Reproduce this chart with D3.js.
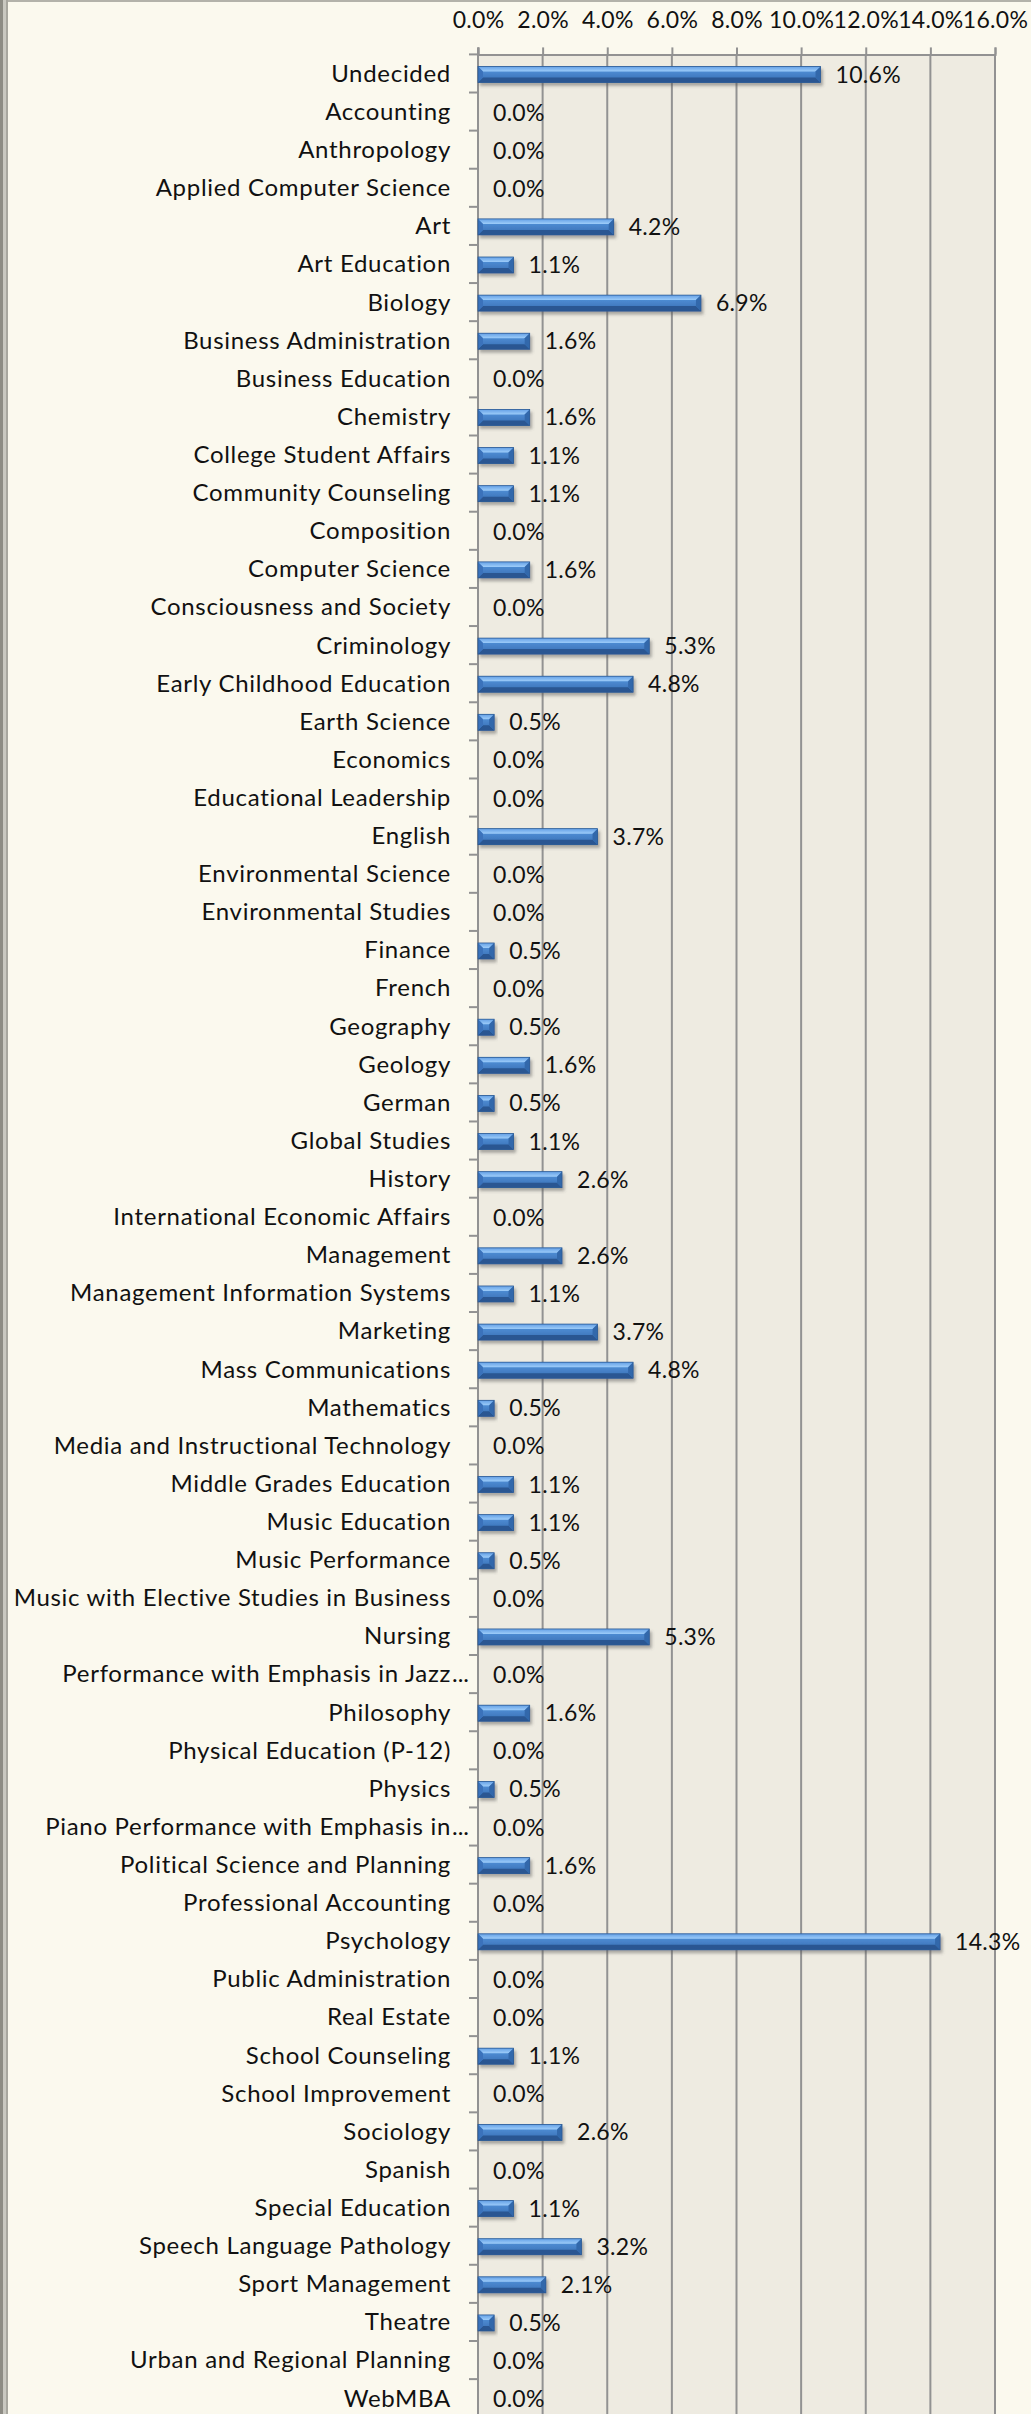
<!DOCTYPE html>
<html>
<head>
<meta charset="utf-8">
<script src="https://cdn.jsdelivr.net/npm/d3@7"></script>
<style>
  body { margin: 0; background: #fbf9ee; }
  svg { display: block; }
  text { font-family: Lato, "Open Sans", sans-serif; fill: #111; }
</style>
</head>
<body>
<div id="chart"></div>
<script>
// categories, top to bottom
var majors = [
  "Undecided", "Accounting", "Anthropology", "Applied Computer Science", "Art",
  "Art Education", "Biology", "Business Administration", "Business Education", "Chemistry",
  "College Student Affairs", "Community Counseling", "Composition", "Computer Science",
  "Consciousness and Society", "Criminology", "Early Childhood Education", "Earth Science",
  "Economics", "Educational Leadership", "English", "Environmental Science",
  "Environmental Studies", "Finance", "French", "Geography", "Geology", "German",
  "Global Studies", "History", "International Economic Affairs", "Management",
  "Management Information Systems", "Marketing", "Mass Communications", "Mathematics",
  "Media and Instructional Technology", "Middle Grades Education", "Music Education",
  "Music Performance", "Music with Elective Studies in Business", "Nursing",
  "Performance with Emphasis in Jazz...", "Philosophy", "Physical Education (P-12)",
  "Physics", "Piano Performance with Emphasis in...", "Political Science and Planning",
  "Professional Accounting", "Psychology", "Public Administration", "Real Estate",
  "School Counseling", "School Improvement", "Sociology", "Spanish", "Special Education",
  "Speech Language Pathology", "Sport Management", "Theatre", "Urban and Regional Planning",
  "WebMBA"
];

// percent of respondents
var percents = [
  10.6, 0.0, 0.0, 0.0, 4.2,
  1.1, 6.9, 1.6, 0.0, 1.6,
  1.1, 1.1, 0.0, 1.6,
  0.0, 5.3, 4.8, 0.5,
  0.0, 0.0, 3.7, 0.0,
  0.0, 0.5, 0.0, 0.5, 1.6, 0.5,
  1.1, 2.6, 0.0, 2.6,
  1.1, 3.7, 4.8, 0.5,
  0.0, 1.1, 1.1,
  0.5, 0.0, 5.3,
  0.0, 1.6, 0.0,
  0.5, 0.0, 1.6,
  0.0, 14.3, 0.0, 0.0,
  1.1, 0.0, 2.6, 0.0, 1.1,
  3.2, 2.1, 0.5, 0.0,
  0.0
];

var axisTicks = [0, 2, 4, 6, 8, 10, 12, 14, 16];

var width = 1031, height = 2414;
var plotLeft = 478, plotRight = 995, plotTop = 54.4, band = 38.11;

var data = majors.map(function (m, i) { return { name: m, value: percents[i] }; });

var svg = d3.select("#chart").append("svg")
    .attr("width", width)
    .attr("height", height);

var defs = svg.append("defs");

// gradients for the bevelled bars
var g1 = defs.append("linearGradient").attr("id", "front").attr("x1", 0).attr("y1", 0).attr("x2", 0).attr("y2", 1);
g1.append("stop").attr("offset", "0%").attr("stop-color", "#5798e0");
g1.append("stop").attr("offset", "100%").attr("stop-color", "#376db2");
var g2 = defs.append("linearGradient").attr("id", "topface").attr("x1", 0).attr("y1", 0).attr("x2", 0).attr("y2", 1);
g2.append("stop").attr("offset", "0%").attr("stop-color", "#64a0e6");
g2.append("stop").attr("offset", "100%").attr("stop-color", "#9dccf9");

var shadow = defs.append("filter").attr("id", "shadow")
    .attr("x", "-10%").attr("y", "-50%").attr("width", "130%").attr("height", "220%");
shadow.append("feDropShadow")
    .attr("dx", 2).attr("dy", 3).attr("stdDeviation", 1.6)
    .attr("flood-color", "#555").attr("flood-opacity", 0.45);

// frame
svg.append("rect").attr("x", 0).attr("y", 0).attr("width", width).attr("height", 2).attr("fill", "#b3b2aa");
svg.append("rect").attr("x", 0).attr("y", 0).attr("width", 3).attr("height", height).attr("fill", "#8d8c84");
svg.append("rect").attr("x", 3).attr("y", 0).attr("width", 3).attr("height", height).attr("fill", "#c9c8c0");
svg.append("rect").attr("x", 6).attr("y", 0).attr("width", 2).attr("height", height).attr("fill", "#a8a79f");

var x = d3.scaleLinear()
    .domain([0, 16])
    .range([plotLeft, plotRight]);

var y = d3.scaleBand()
    .domain(majors)
    .range([plotTop, plotTop + band * majors.length])
    .padding(0);

// plot area
svg.append("rect")
    .attr("x", plotLeft).attr("y", plotTop)
    .attr("width", plotRight - plotLeft).attr("height", height - plotTop + 10)
    .attr("fill", "#eeebe1");

// vertical gridlines
svg.append("g")
    .selectAll("line")
    .data(axisTicks.slice(1))
    .enter()
    .append("line")
    .attr("x1", function (d) { return x(d); })
    .attr("x2", function (d) { return x(d); })
    .attr("y1", plotTop)
    .attr("y2", height + 10)
    .attr("stroke", "#929292")
    .attr("stroke-width", 2);

// top axis
var xAxis = svg.append("g")
    .attr("transform", "translate(0," + plotTop + ")")
    .call(d3.axisTop(x).tickValues(axisTicks).tickSize(7).tickPadding(19)
        .tickFormat(function (d) { return d3.format(".1f")(d) + "%"; }));
xAxis.select(".domain").attr("stroke", "#929292").attr("stroke-width", 2);
xAxis.selectAll(".tick line").attr("stroke", "#929292").attr("stroke-width", 2);
xAxis.selectAll("text")
    .style("font-family", "Lato, sans-serif")
    .style("font-size", "23px")
    .style("letter-spacing", "0.3px")
    .attr("fill", "#111");

// left axis line and ticks between categories
svg.append("line")
    .attr("x1", plotLeft).attr("x2", plotLeft)
    .attr("y1", plotTop - 7).attr("y2", height + 10)
    .attr("stroke", "#929292").attr("stroke-width", 2);

svg.append("g")
    .selectAll("line")
    .data(majors)
    .enter()
    .append("line")
    .attr("x1", plotLeft - 9)
    .attr("x2", plotLeft)
    .attr("y1", function (d) { return y(d); })
    .attr("y2", function (d) { return y(d); })
    .attr("stroke", "#929292")
    .attr("stroke-width", 2);

// category labels
var labels = svg.append("g")
    .selectAll("text")
    .data(majors)
    .enter()
    .append("text")
    .attr("x", plotLeft - 27)
    .attr("y", function (d) { return y(d) + band / 2; })
    .attr("dy", "0.35em")
    .attr("text-anchor", "end")
    .style("font-size", "24px")
    .style("letter-spacing", "0.7px")
    .text(function (d) { return d.replace(/\.\.\.$/, ""); });

// labels cut short in the original keep their dots hanging past the edge
svg.append("g")
    .selectAll("text")
    .data(majors.filter(function (d) { return /\.\.\.$/.test(d); }))
    .enter()
    .append("text")
    .attr("x", plotLeft - 26)
    .attr("y", function (d) { return y(d) + band / 2; })
    .attr("dy", "0.35em")
    .style("font-size", "24px")
    .text("...");

// bars
var barH = 16;
var bars = svg.append("g")
    .selectAll("g")
    .data(data.filter(function (d) { return d.value > 0; }))
    .enter()
    .append("g")
    .attr("filter", "url(#shadow)");

function pts(a) { return a.map(function (p) { return p.join(","); }).join(" "); }

bars.each(function (d) {
    var g = d3.select(this);
    var x0 = x(0), x1 = x(d.value);
    var y0 = y(d.name) + band / 2 - barH / 2 + 1, y1 = y0 + barH;
    var b = Math.min(5, (x1 - x0) / 2);
    g.append("rect")
        .attr("x", x0).attr("y", y0)
        .attr("width", x1 - x0).attr("height", barH)
        .attr("fill", "url(#front)");
    g.append("polygon")
        .attr("points", pts([[x0, y0], [x1, y0], [x1 - b, y0 + b], [x0 + b, y0 + b]]))
        .attr("fill", "url(#topface)");
    g.append("polygon")
        .attr("points", pts([[x0, y1], [x1, y1], [x1 - b, y1 - b], [x0 + b, y1 - b]]))
        .attr("fill", "#2a5792");
    g.append("polygon")
        .attr("points", pts([[x0, y0], [x0 + b, y0 + b], [x0 + b, y1 - b], [x0, y1]]))
        .attr("fill", "#3a72bb");
    g.append("polygon")
        .attr("points", pts([[x1, y0], [x1 - b, y0 + b], [x1 - b, y1 - b], [x1, y1]]))
        .attr("fill", "#3368ab");
    g.append("rect")
        .attr("x", x0).attr("y", y0)
        .attr("width", x1 - x0).attr("height", barH)
        .attr("fill", "none")
        .attr("stroke", "#2b5a95").attr("stroke-width", 0.8);
});

// value labels
svg.append("g")
    .selectAll("text")
    .data(data)
    .enter()
    .append("text")
    .attr("x", function (d) { return x(d.value) + 15; })
    .attr("y", function (d) { return y(d.name) + band / 2 + 1; })
    .attr("dy", "0.35em")
    .style("font-size", "23px")
    .style("letter-spacing", "0.3px")
    .text(function (d) { return d3.format(".1f")(d.value) + "%"; });
</script>
</body>
</html>
